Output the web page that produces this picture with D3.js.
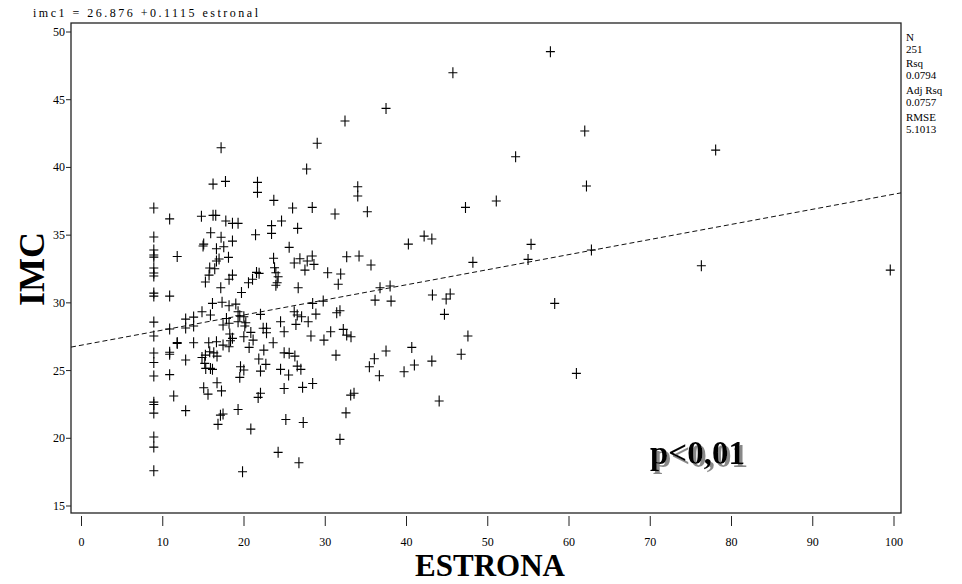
<!DOCTYPE html>
<html><head><meta charset="utf-8">
<script src="https://cdn.jsdelivr.net/npm/d3@7"></script>
<style>body{margin:0;background:#fff}svg{display:block}text{font-family:"Liberation Serif","Times New Roman",serif}</style>
</head><body><svg id="c" width="962" height="584"></svg>
<script>
const xTicks=[0,10,20,30,40,50,60,70,80,90,100];
const yTicks=[15,20,25,30,35,40,45,50];
const intercept=26.876, slope=0.1115;
const stats=["N","251","Rsq","0.0794","Adj Rsq","0.0757","RMSE","5.1013"];
const estrona=[
8.9,8.9,8.9,8.9,8.9,8.9,8.9,8.9,8.9,8.9,8.9,8.9,8.9,8.9,8.9,8.9,8.9,8.9,8.9,8.9,8.9,
10.85,10.85,10.85,10.85,10.85,10.85,11.35,11.78,11.78,11.78,12.82,12.82,12.82,12.82,13.8,13.8,13.8,
14.76,15.9,16.19,16.19,16.52,17.18,17.72,17.76,18.58,19.27,17.18,18.58,21.42,21.66,21.66,23.67,25.98,24.62,23.39,26.6,23.39,25.56,
15.04,14.96,16.61,17.51,16.93,18.09,16.61,23.64,26.18,26.88,27.78,28.4,28.61,27.5,23.76,23.92,24.2,24.08,23.92,15.78,
16.4,15.7,15.25,18.16,18.58,20.55,21.05,21.54,21.86,17.14,19.69,26.67,16.12,17.3,18.16,18.99,28.45,14.83,15.87,17.84,
19.27,19.48,19.98,22.03,26.18,26.55,27.09,27.9,28.85,17.42,18.16,19.27,20.1,20.22,24.5,24.94,26.39,28.24,15.66,16.61,
17.42,18.25,18.58,18.34,18.16,19.98,20.84,21.12,20.63,22.36,22.77,22.77,23.59,22.44,21.82,22.69,22.03,24.94,25.56,26.26,
24.5,25.49,26.55,27.0,28.45,24.94,27.21,14.83,15.25,15.78,16.28,16.68,15.17,15.29,15.87,16.12,19.57,19.98,19.48,16.68,
15.04,15.57,17.23,22.03,21.74,19.27,17.42,17.1,16.8,20.84,25.15,27.29,24.2,26.76,19.82,
27.71,29.01,28.4,45.71,37.48,32.43,34.0,34.0,31.2,35.18,53.43,47.26,51.05,42.17,43.12,40.23,48.17,32.64,34.16,35.63,
30.3,31.9,31.6,36.74,37.98,36.13,38.1,43.19,44.88,45.38,44.67,47.56,46.73,44.02,40.65,37.48,36.04,35.43,36.66,39.7,
40.97,43.12,31.32,33.17,32.22,32.64,30.67,29.84,29.75,31.41,31.81,33.13,33.54,32.55,31.81,
57.71,61.94,78.05,62.15,55.33,54.96,62.76,76.29,99.54,58.24,60.91];
const imc=[
37.0,34.86,33.9,33.53,33.38,32.57,32.2,31.98,30.72,30.5,28.58,27.55,26.3,25.6,24.6,22.67,22.5,21.86,20.1,19.35,17.6,
36.2,30.5,28.07,26.35,26.2,24.7,23.12,33.42,27.07,27.0,28.8,28.14,25.78,22.04,28.95,28.29,27.05,
36.4,35.18,38.77,36.46,36.46,41.45,38.97,36.04,35.87,35.87,34.84,34.56,35.03,38.9,38.16,37.57,37.0,36.04,35.7,35.5,35.13,34.1,
34.34,34.2,34.0,34.14,33.24,33.36,33.09,33.29,32.94,33.26,33.09,33.46,32.84,32.42,32.59,32.22,31.93,31.48,31.3,32.57,
32.52,32.05,31.54,31.74,32.05,31.48,31.74,32.25,32.18,31.11,30.77,31.11,29.96,30.04,29.79,29.91,29.96,29.34,29.1,28.85,
29.34,29.05,28.97,29.15,29.34,29.1,28.97,28.6,29.17,28.36,28.49,28.6,28.29,28.53,28.6,27.87,28.41,27.55,27.05,27.13,
26.88,27.7,27.38,27.2,26.76,27.5,27.82,27.25,26.71,28.12,28.12,27.79,27.05,26.51,25.85,25.46,24.96,26.31,26.27,26.07,
25.09,24.67,25.33,25.09,24.05,23.68,23.76,25.97,26.14,26.39,26.31,26.07,25.53,25.16,25.16,25.09,25.28,25.04,24.5,24.1,
23.73,23.26,23.5,23.32,23.02,22.13,21.79,21.71,21.03,20.68,21.39,21.17,18.96,18.19,17.53,
39.88,41.78,37.05,46.99,44.36,43.43,38.57,37.89,36.56,36.73,40.79,37.05,37.52,34.93,34.71,34.34,32.99,33.4,33.46,32.79,
32.22,32.13,31.37,31.12,31.24,30.2,30.13,30.58,30.28,30.65,29.15,27.55,26.2,22.75,26.71,26.44,25.87,25.28,24.62,24.91,
25.41,25.7,26.14,27.5,28.04,27.62,27.87,27.25,30.13,29.27,29.42,23.19,23.32,21.88,19.92,
48.55,42.69,41.28,38.63,34.32,33.21,33.9,32.74,32.42,29.96,24.79];

const svg=d3.select("#c");
const defs=svg.append("defs");
defs.append("filter").attr("id","sh").attr("x","-10%").attr("y","-10%").attr("width","130%").attr("height","140%")
  .append("feDropShadow").attr("dx",3).attr("dy",3).attr("stdDeviation",0.6).attr("flood-color","#888").attr("flood-opacity",1);

const x=d3.scaleLinear().domain([0,100]).range([81.5,894]);
const y=d3.scaleLinear().domain([15,50]).range([506,32]);
const L=71,R=901,T=23,B=513;
const xmin=x.invert(L), xmax=x.invert(R);

// frame
svg.append("rect").attr("x",L).attr("y",T).attr("width",R-L).attr("height",B-T)
  .attr("fill","none").attr("stroke","#222").attr("stroke-width",1.3);

// y axis ticks
const ya=svg.append("g");
yTicks.forEach(v=>{
  ya.append("line").attr("x1",L-5).attr("x2",L).attr("y1",y(v)).attr("y2",y(v)).attr("stroke","#222");
  ya.append("text").attr("x",L-6).attr("y",y(v)+4).attr("text-anchor","end").attr("font-size",12).text(v);
});
// x axis ticks
const xa=svg.append("g");
xTicks.forEach(v=>{
  xa.append("line").attr("x1",x(v)).attr("x2",x(v)).attr("y1",B+3).attr("y2",B+13).attr("stroke","#222");
  xa.append("text").attr("x",x(v)).attr("y",B+33).attr("text-anchor","middle").attr("font-size",12).text(v);
});

// regression line
svg.append("line").attr("x1",L).attr("x2",R)
  .attr("y1",y(intercept+slope*xmin)).attr("y2",y(intercept+slope*xmax))
  .attr("stroke","#111").attr("stroke-width",1).attr("stroke-dasharray","5,3");

// points
const pts=estrona.map((e,i)=>[e,imc[i]]);
svg.append("g").selectAll("path").data(pts).join("path")
  .attr("d",d=>{const px=x(d[0]),py=y(d[1]);return `M${px-4.5},${py}H${px+4.5}M${px},${py-5.5}V${py+5.5}`;})
  .attr("stroke","#000").attr("stroke-width",1.1).attr("fill","none");

// title equation
svg.append("text").attr("x",33).attr("y",17).attr("font-size",12).attr("textLength",225)
  .text("imc1 = 26.876 +0.1115 estronal");

// stats
const sy=[41,53,67,79,94,106,121,133];
stats.forEach((s,i)=>svg.append("text").attr("x",906).attr("y",sy[i]).attr("font-size",11).text(s));

// axis labels
svg.append("text").attr("x",490).attr("y",576).attr("text-anchor","middle").attr("font-size",31)
  .attr("font-weight","bold").text("ESTRONA");
svg.append("text").attr("transform","translate(44,269) rotate(-90)").attr("text-anchor","middle")
  .attr("font-size",36).attr("font-weight","bold").text("IMC");

// p label with shadow
svg.append("text").attr("x",650).attr("y",464).attr("font-size",33).attr("font-weight","bold")
  .attr("fill","#000").attr("filter","url(#sh)").text("p<0,01");
</script></body></html>
